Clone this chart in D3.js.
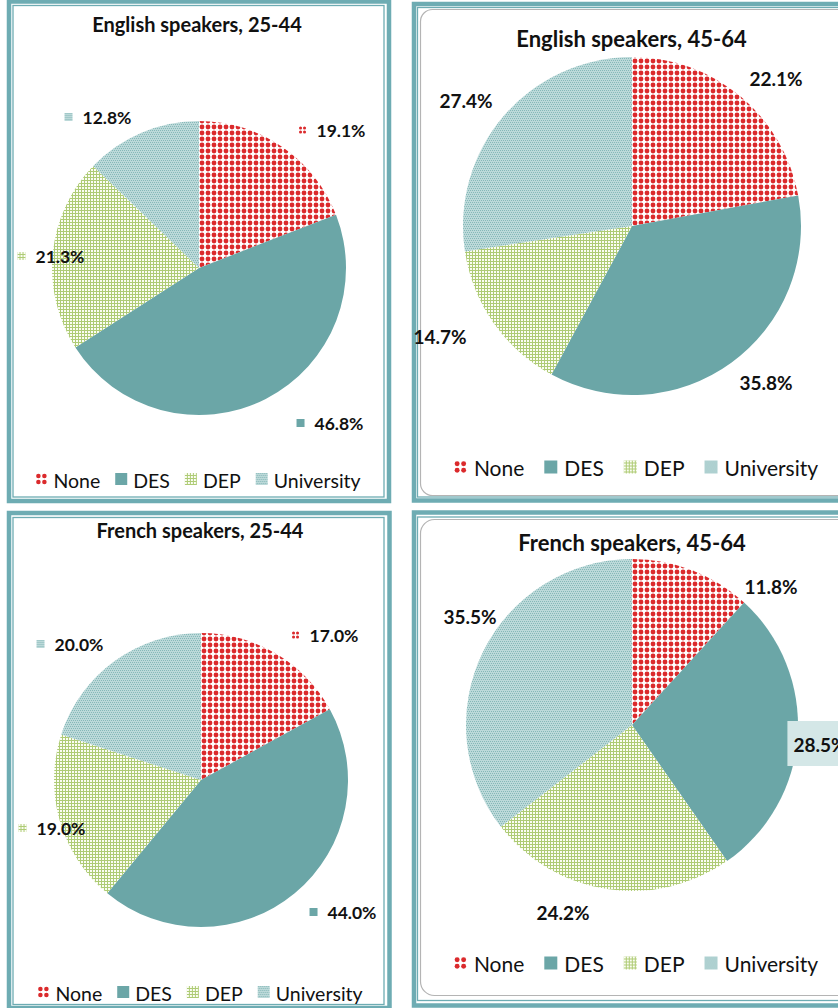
<!DOCTYPE html>
<html>
<head>
<meta charset="utf-8">
<script src="https://cdn.jsdelivr.net/npm/d3@7"></script>
<style>
  html, body { margin: 0; padding: 0; background: #fff; }
  svg { display: block; }
  text { font-family: Lato, "Open Sans", sans-serif; fill: #111; }
</style>
</head>
<body>
<svg id="chart" width="838" height="1008"></svg>
<script>
// Education level categories, shared by all four pies
const categories = ["None", "DES", "DEP", "University"];

// Share of each education level (%), by language group and age band
const englishYoung = [19.1, 46.8, 21.3, 12.8];
const englishOlder = [22.1, 35.8, 14.7, 27.4];
const frenchYoung  = [17.0, 44.0, 19.0, 20.0];
const frenchOlder  = [11.8, 28.5, 24.2, 35.5];

const titles = [
  "English speakers, 25-44",
  "English speakers, 45-64",
  "French speakers, 25-44",
  "French speakers, 45-64"
];

const seriesList = [englishYoung, englishOlder, frenchYoung, frenchOlder];

// Panel layout (frames, title, pie, legend and label placement)
const layout = [
  { frame: {x0: 9, y0: 1.5, x1: 389, y1: 501, inner: {x0: 13, y0: 5.5, x1: 384, y1: 497}},
    title: {x: 197, y: 32, size: 20},
    pie: {cx: 199, cy: 268, r: 147},
    labelSize: 17.5, labelIcons: true,
    labels: [[142, -131], [140, 162], [-139, -5], [-92, -144]],
    legend: {cx: 198, y: 488, size: 19.5, icon: 12, gap: 6, step: 15} },
  { frame: {x0: 414, y0: 4, x1: 880, y1: 500.5, inner: {x0: 417.5, y0: 7.5, x1: 876, y1: 497},
            round: {x0: 420.5, y0: 9.5, x1: 872, y1: 495.5, rx: 12}},
    title: {x: 631.5, y: 47, size: 22},
    pie: {cx: 632, cy: 226, r: 169},
    labelSize: 19, labelIcons: false,
    labels: [[144, -140], [134, 164], [-192, 118], [-166, -118]],
    legend: {cx: 636, y: 476, size: 21, icon: 13, gap: 7, step: 20} },
  { frame: {x0: 9, y0: 513, x1: 389.5, y1: 1008, inner: {x0: 13, y0: 517.5, x1: 384, y1: 1004.5}},
    title: {x: 200, y: 538, size: 20},
    pie: {cx: 201, cy: 780, r: 147},
    labelSize: 17.5, labelIcons: true,
    labels: [[133, -138], [151, 139], [-140, 55], [-122, -129]],
    legend: {cx: 200, y: 1001, size: 19.5, icon: 12, gap: 6, step: 15} },
  { frame: {x0: 414, y0: 512.5, x1: 880, y1: 1005.5, inner: {x0: 417.5, y0: 517, x1: 876, y1: 1000.5},
            round: {x0: 420.5, y0: 519.5, x1: 872, y1: 995.5, rx: 14}},
    title: {x: 632, y: 551, size: 22},
    pie: {cx: 632, cy: 725, r: 166},
    labelSize: 19, labelIcons: false, boxed: [1],
    labels: [[139, -131], [188, 27], [-69, 195], [-162, -101]],
    legend: {cx: 636, y: 972, size: 21, icon: 13, gap: 7, step: 20} }
];

const frameTeal = "#6eacb3";
const desTeal = "#6ba6a7";
const dotRed = "#db2a2c";
const depGreen = "#aecb75";

const svg = d3.select("#chart");
const defs = svg.append("defs");

// Red dot pattern (None)
const pNone = defs.append("pattern").attr("id", "pat-none")
  .attr("patternUnits", "userSpaceOnUse").attr("width", 6).attr("height", 6);
pNone.append("rect").attr("width", 6).attr("height", 6).attr("fill", "#fff");
pNone.append("circle").attr("cx", 3).attr("cy", 3).attr("r", 2.4).attr("fill", dotRed);

// Fine green grid pattern (DEP)
const pDep = defs.append("pattern").attr("id", "pat-dep")
  .attr("patternUnits", "userSpaceOnUse").attr("width", 3).attr("height", 3);
pDep.append("rect").attr("width", 3).attr("height", 3).attr("fill", "#fbfdf4");
pDep.append("rect").attr("x", 2).attr("width", 1).attr("height", 3).attr("fill", depGreen);
pDep.append("rect").attr("y", 2).attr("width", 3).attr("height", 1).attr("fill", depGreen);

// Soft teal dither pattern (University)
const pUni = defs.append("pattern").attr("id", "pat-uni")
  .attr("patternUnits", "userSpaceOnUse").attr("width", 4).attr("height", 4);
pUni.append("rect").attr("width", 4).attr("height", 4).attr("fill", "#bcd9d9");
[[0, 0], [2, 0], [1, 2], [3, 2]].forEach(([a, b]) =>
  pUni.append("rect").attr("x", a).attr("y", b).attr("width", 1).attr("height", 1)
    .attr("fill", "#86b8b8").attr("shape-rendering", "crispEdges"));

const fills = d3.scaleOrdinal()
  .domain(categories)
  .range(["url(#pat-none)", desTeal, "url(#pat-dep)", "url(#pat-uni)"]);

const fmt = v => d3.format(".1f")(v) + "%";

// Small key glyph for a category, drawn inside a size x size box
function drawKey(g, cat, x, y, size) {
  const k = g.append("g").attr("transform", `translate(${x},${y})`);
  if (cat === "None") {
    const p = size / 4;
    const rr = size * 0.19;
    [[1, 1], [3, 1], [1, 3], [3, 3]].forEach(([a, b]) =>
      k.append("circle").attr("cx", a * p).attr("cy", b * p).attr("r", rr).attr("fill", dotRed));
  } else {
    k.append("rect").attr("width", size).attr("height", size).attr("fill", fills(cat));
  }
}

const pieGen = d3.pie().sort(null).value(d => d.value);

seriesList.forEach((values, i) => {
  const L = layout[i];
  const panel = svg.append("g");

  // Frames: thick teal outline, thin inner teal line, optional rounded gray plot border
  const F = L.frame;
  panel.append("rect")
    .attr("x", F.x0).attr("y", F.y0).attr("width", F.x1 - F.x0).attr("height", F.y1 - F.y0)
    .attr("fill", "none").attr("stroke", frameTeal).attr("stroke-width", 4.5);
  panel.append("rect")
    .attr("x", F.inner.x0).attr("y", F.inner.y0)
    .attr("width", F.inner.x1 - F.inner.x0).attr("height", F.inner.y1 - F.inner.y0)
    .attr("fill", "none").attr("stroke", frameTeal).attr("stroke-width", 1.3);
  if (F.round) {
    panel.append("rect")
      .attr("x", F.round.x0).attr("y", F.round.y0)
      .attr("width", F.round.x1 - F.round.x0).attr("height", F.round.y1 - F.round.y0)
      .attr("rx", F.round.rx).attr("ry", F.round.rx)
      .attr("fill", "none").attr("stroke", "#b4b4b4").attr("stroke-width", 1.2);
  }

  // Title
  panel.append("text")
    .attr("x", L.title.x).attr("y", L.title.y)
    .attr("text-anchor", "middle")
    .style("font-weight", 700).style("font-size", L.title.size + "px")
    .text(titles[i]);

  // Pie slices, clockwise from 12 o'clock
  const data = categories.map((c, j) => ({ cat: c, value: values[j] }));
  const arcs = pieGen(data);
  const arc = d3.arc().innerRadius(0).outerRadius(L.pie.r);
  const pg = panel.append("g").attr("transform", `translate(${L.pie.cx},${L.pie.cy})`);
  pg.selectAll("path").data(arcs).join("path")
    .attr("d", arc)
    .attr("fill", d => fills(d.data.cat));

  // Value labels
  arcs.forEach((a, j) => {
    const [dx, dy] = L.labels[j];
    const x = L.pie.cx + dx, y = L.pie.cy + dy;
    const t = panel.append("text")
      .attr("x", x).attr("y", y).attr("text-anchor", "middle")
      .style("font-weight", 700).style("font-size", L.labelSize + "px")
      .text(fmt(a.data.value));
    if (L.boxed && L.boxed.includes(j)) {
      const bb = t.node().getBBox();
      panel.insert("rect", () => t.node())
        .attr("x", bb.x - 6).attr("y", bb.y - 12)
        .attr("width", bb.width + 30).attr("height", bb.height + 22)
        .attr("fill", "#d4e7e7");
    }
    if (L.labelIcons) {
      const w = t.node().getComputedTextLength();
      drawKey(panel, a.data.cat, x - w / 2 - 18, y - 11, 8);
    }
  });

  // Legend, centered under the pie
  const lg = panel.append("g");
  const items = categories.map(c => {
    const t = lg.append("text").attr("y", L.legend.y)
      .style("font-size", L.legend.size + "px").text(c);
    return { cat: c, t, w: t.node().getComputedTextLength() };
  });
  const total = d3.sum(items, it => L.legend.icon + L.legend.gap + it.w) + L.legend.step * (items.length - 1);
  let cursor = L.legend.cx - total / 2;
  items.forEach(it => {
    drawKey(lg, it.cat, cursor, L.legend.y - 9 - L.legend.icon / 2, L.legend.icon);
    it.t.attr("x", cursor + L.legend.icon + L.legend.gap);
    cursor += L.legend.icon + L.legend.gap + it.w + L.legend.step;
  });
});
</script>
</body>
</html>
